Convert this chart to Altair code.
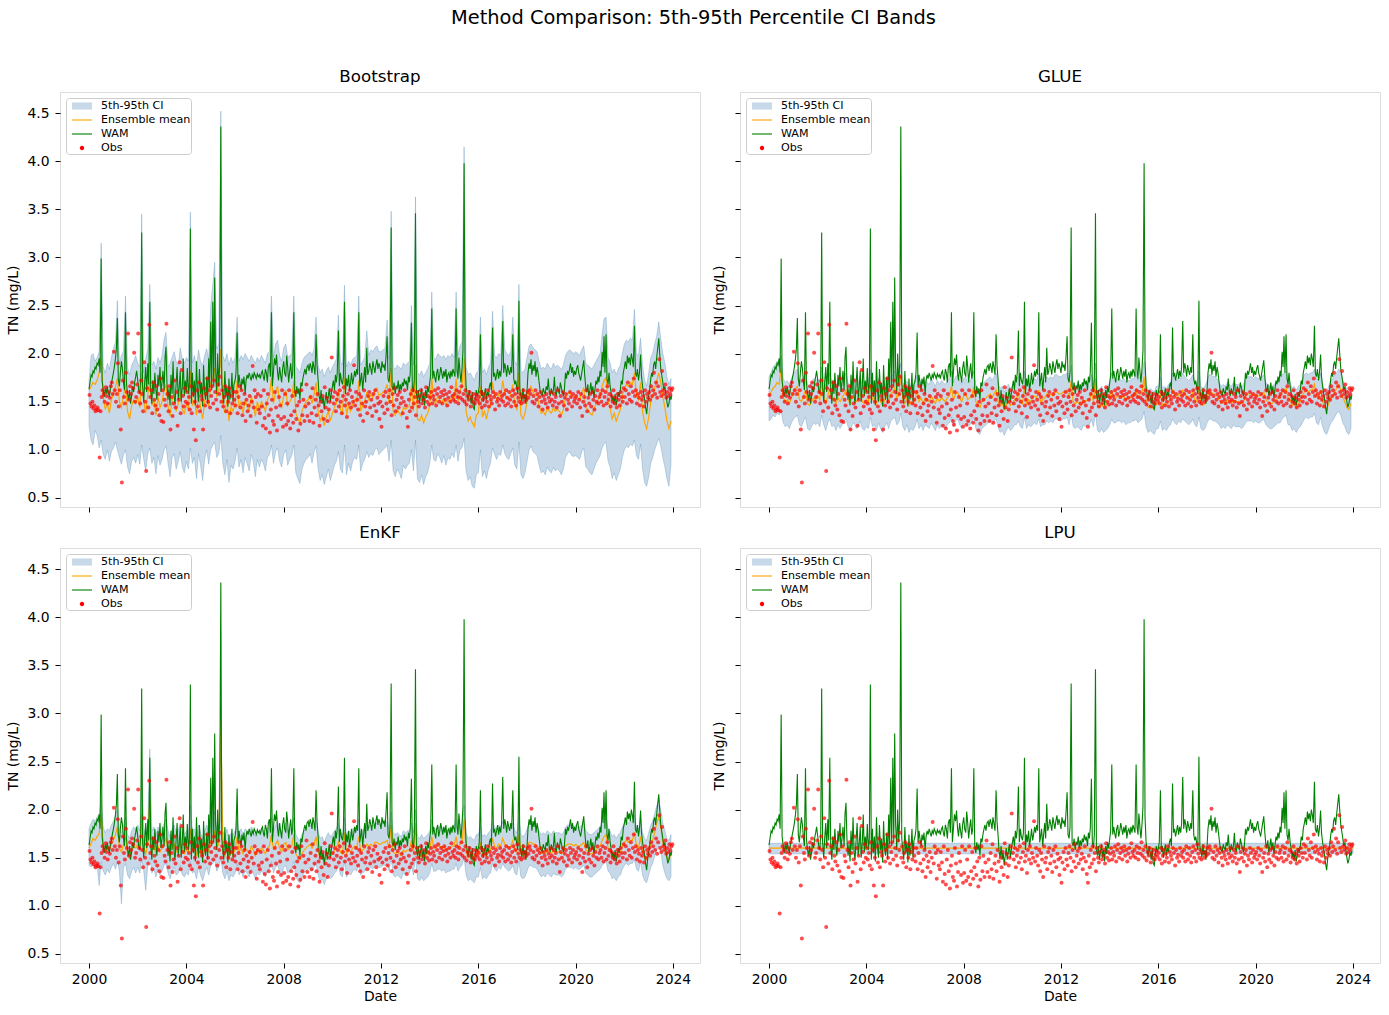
import altair as alt
import pandas as pd

alt.data_transformers.disable_max_rows()

# ------------------------------------------------------------------
# Total nitrogen (mg/L), 2000-2023
# ------------------------------------------------------------------

# WAM simulation, semi-monthly (1st and 15th of each month), one row per year
WAM = [
    1.63, 1.70, 1.78, 1.76, 1.82, 1.80, 1.86, 1.84, 1.90, 1.88, 1.95, 1.80, 2.99, 1.72, 1.62, 1.55, 1.64, 1.58, 1.66, 1.60, 1.55, 1.63, 1.68, 1.74,
    1.80, 1.86, 1.95, 2.06, 2.37, 1.74, 1.66, 1.80, 1.92, 1.85, 1.70, 1.62, 2.43, 1.70, 1.58, 1.52, 1.62, 1.48, 1.56, 1.66, 1.60, 1.70, 1.76, 1.82,
    1.72, 1.62, 1.58, 1.75, 3.26, 1.66, 1.50, 1.70, 1.86, 1.60, 1.90, 1.68, 2.54, 1.62, 1.48, 1.72, 1.58, 1.80, 1.62, 1.52, 1.78, 1.66, 1.86, 1.60,
    1.70, 1.82, 1.62, 1.96, 2.07, 1.70, 1.52, 1.64, 1.46, 1.78, 1.58, 1.92, 1.55, 1.48, 1.70, 1.86, 1.52, 1.64, 1.82, 1.50, 1.66, 1.95, 1.56, 1.72,
    1.60, 1.85, 1.58, 1.70, 3.30, 1.48, 1.80, 1.55, 1.72, 1.46, 1.92, 1.62, 1.50, 1.84, 1.58, 1.70, 1.45, 1.88, 1.60, 1.52, 1.76, 1.48, 1.95, 1.64,
    2.33, 1.62, 2.54, 1.66, 2.79, 1.85, 1.58, 2.00, 1.66, 1.90, 4.36, 1.70, 1.58, 1.48, 1.82, 1.55, 1.66, 1.45, 1.74, 1.52, 1.60, 1.80, 1.50, 1.68,
    1.72, 1.80, 2.22, 1.66, 1.78, 1.70, 1.62, 1.74, 1.68, 1.76, 1.58, 1.72, 1.78, 1.74, 1.80, 1.76, 1.72, 1.78, 1.75, 1.80, 1.77, 1.74, 1.79, 1.76,
    1.78, 1.74, 1.80, 1.82, 1.76, 1.72, 1.84, 1.80, 1.70, 1.86, 1.90, 1.76, 2.43, 1.66, 1.82, 1.95, 1.88, 1.99, 1.80, 1.72, 1.86, 1.78, 1.70, 1.84,
    1.92, 1.80, 1.76, 1.98, 1.86, 1.70, 1.82, 1.90, 1.74, 1.80, 2.43, 1.62, 1.55, 1.66, 1.58, 1.64, 1.52, 1.70, 1.66, 1.74, 1.80, 1.84, 1.78, 1.86,
    1.88, 1.82, 1.90, 1.86, 1.80, 1.92, 1.85, 1.78, 2.20, 1.88, 1.72, 1.56, 1.50, 1.62, 1.48, 1.55, 1.42, 1.52, 1.60, 1.48, 1.56, 1.64, 1.50, 1.58,
    1.66, 1.72, 1.62, 1.78, 1.70, 1.80, 2.24, 1.66, 1.80, 1.72, 1.68, 1.76, 2.54, 1.58, 1.74, 1.66, 1.78, 1.62, 1.70, 1.80, 1.68, 1.74, 1.82, 1.76,
    1.84, 1.78, 2.43, 1.66, 1.72, 1.80, 1.62, 1.74, 1.86, 1.70, 2.06, 1.78, 1.82, 1.90, 1.84, 1.78, 1.92, 1.86, 1.80, 1.88, 1.94, 1.84, 1.90, 1.86,
    1.80, 1.92, 1.86, 1.88, 1.82, 1.96, 2.18, 1.74, 1.70, 1.82, 3.31, 1.66, 1.62, 1.70, 1.58, 1.66, 1.64, 1.72, 1.60, 1.68, 1.62, 1.70, 1.66, 1.74,
    1.68, 1.72, 1.62, 1.76, 1.70, 1.80, 2.32, 1.66, 1.60, 1.74, 3.46, 1.58, 1.52, 1.62, 1.48, 1.56, 1.64, 1.50, 1.58, 1.46, 1.62, 1.54, 1.66, 1.60,
    1.70, 1.78, 2.47, 1.74, 1.82, 1.76, 1.70, 1.80, 1.84, 1.72, 1.78, 1.86, 1.80, 1.74, 1.82, 1.76, 1.84, 1.70, 1.78, 1.80, 1.74, 1.82, 1.76, 1.84,
    1.80, 1.76, 2.47, 1.82, 1.74, 1.96, 1.80, 1.70, 1.85, 2.03, 3.98, 1.92, 1.66, 1.58, 1.52, 1.62, 1.55, 1.48, 1.60, 1.44, 1.42, 1.54, 1.62, 1.56,
    1.60, 1.66, 2.20, 1.56, 1.62, 1.50, 1.58, 1.64, 1.52, 1.60, 1.56, 1.66, 1.70, 1.62, 2.27, 1.76, 1.80, 1.72, 1.78, 1.84, 1.74, 1.82, 1.76, 1.86,
    2.34, 1.80, 1.90, 1.84, 1.76, 1.88, 1.82, 1.78, 1.86, 1.80, 2.20, 1.74, 1.68, 1.72, 1.64, 1.58, 2.55, 1.62, 1.56, 1.50, 1.64, 1.52, 1.58, 1.48,
    1.62, 1.80, 1.90, 1.84, 1.94, 1.78, 1.88, 1.82, 1.92, 1.76, 1.86, 1.80, 1.70, 1.62, 1.58, 1.56, 1.64, 1.60, 1.58, 1.66, 1.62, 1.74, 1.60, 1.56,
    1.64, 1.58, 1.62, 1.76, 1.60, 1.56, 1.66, 1.62, 1.58, 1.70, 1.64, 1.60, 1.56, 1.62, 1.80, 1.74, 1.82, 1.78, 1.84, 1.90, 1.80, 1.86, 1.76, 1.82,
    1.78, 1.84, 1.88, 1.80, 1.76, 1.72, 1.80, 1.86, 1.93, 1.78, 1.64, 1.60, 1.68, 1.56, 1.62, 1.70, 1.58, 1.66, 1.54, 1.62, 1.72, 1.68, 1.76, 1.70,
    1.82, 1.76, 2.02, 1.86, 2.18, 1.80, 2.20, 1.74, 1.68, 1.80, 1.66, 1.60, 1.50, 1.56, 1.48, 1.58, 1.46, 1.52, 1.60, 1.55, 1.62, 1.72, 1.68, 1.80,
    1.86, 1.92, 1.84, 1.98, 1.90, 1.96, 1.88, 2.00, 1.94, 1.86, 2.29, 1.80, 1.76, 1.84, 1.72, 1.80, 1.99, 1.76, 1.66, 1.60, 1.52, 1.44, 1.37, 1.48,
    1.56, 1.62, 1.74, 1.80, 1.76, 1.88, 1.92, 1.84, 1.96, 2.05, 2.16, 2.00, 1.84, 1.78, 1.70, 1.62, 1.66, 1.58, 1.50, 1.44, 1.48, 1.56, 1.52, 1.57,
]

# Grab samples, twice a month (8th and 22nd), one row per year
OBS = [
    1.57, 1.48, 1.45, 1.50, 1.43, 1.46, 1.40, 1.42, 1.44, 1.41, 0.92, 1.40, 1.55, 1.62, 1.58, 1.50, 1.65, 1.56, 1.48, 1.60, 1.54, 1.66, 1.70, 1.58,
    2.02, 1.62, 1.50, 1.58, 1.90, 1.45, 1.62, 1.21, 0.66, 1.72, 1.55, 1.48, 1.80, 1.60, 2.21, 1.52, 1.66, 1.58, 1.70, 1.64, 2.01, 1.50, 1.55, 1.68,
    2.21, 1.60, 1.48, 1.72, 1.58, 1.40, 1.91, 1.50, 0.78, 1.64, 1.44, 2.30, 1.55, 1.62, 1.38, 1.70, 1.52, 1.46, 1.66, 1.42, 1.58, 1.36, 1.74, 1.30,
    1.62, 1.29, 1.52, 1.46, 2.31, 1.58, 1.40, 1.66, 1.21, 1.55, 1.35, 1.48, 1.72, 1.44, 1.60, 1.25, 1.52, 1.91, 1.38, 1.83, 1.56, 1.45, 1.64, 1.50,
    1.60, 1.48, 1.55, 1.42, 1.66, 1.38, 1.58, 1.21, 1.50, 1.10, 1.62, 1.45, 1.70, 1.40, 1.56, 1.52, 1.21, 1.64, 1.46, 1.58, 1.74, 1.50, 1.62, 1.44,
    1.56, 1.66, 1.48, 1.72, 1.60, 1.52, 1.42, 1.68, 1.58, 1.76, 1.50, 1.62, 1.45, 1.55, 1.66, 1.40, 1.58, 1.50, 1.64, 1.38, 1.56, 1.48, 1.60, 1.52,
    1.46, 1.60, 1.38, 1.55, 1.66, 1.44, 1.62, 1.36, 1.48, 1.58, 1.30, 1.52, 1.40, 1.46, 1.56, 1.35, 1.50, 1.87, 1.44, 1.62, 1.55, 1.28, 1.58, 1.42,
    1.38, 1.56, 1.45, 1.25, 1.62, 1.33, 1.22, 1.48, 1.58, 1.36, 1.18, 1.42, 1.52, 1.30, 1.26, 1.60, 1.44, 1.20, 1.35, 1.55, 1.46, 1.32, 1.62, 1.24,
    1.34, 1.58, 1.26, 1.48, 1.30, 1.62, 1.22, 1.36, 1.56, 1.28, 1.40, 1.60, 1.32, 1.46, 1.20, 1.50, 1.27, 1.62, 1.36, 1.52, 1.30, 1.45, 1.68, 1.35,
    1.48, 1.30, 1.55, 1.38, 1.64, 1.28, 1.44, 1.52, 1.36, 1.58, 1.46, 1.25, 1.50, 1.40, 1.56, 1.32, 1.65, 1.44, 1.54, 1.30, 1.42, 1.50, 1.62, 1.96,
    1.55, 1.48, 1.60, 1.40, 1.52, 1.58, 1.45, 1.62, 1.50, 1.38, 1.56, 1.65, 1.46, 1.52, 1.34, 1.58, 1.48, 1.62, 1.44, 1.55, 1.50, 1.88, 1.46, 1.60,
    1.52, 1.42, 1.58, 1.36, 1.55, 1.48, 1.30, 1.62, 1.45, 1.50, 1.38, 1.56, 1.60, 1.44, 1.52, 1.35, 1.58, 1.46, 1.62, 1.40, 1.54, 1.48, 1.32, 1.50,
    1.24, 1.45, 1.56, 1.38, 1.60, 1.48, 1.42, 1.55, 1.62, 1.50, 1.36, 1.58, 1.46, 1.64, 1.40, 1.52, 1.57, 1.44, 1.60, 1.48, 1.54, 1.38, 1.50, 1.62,
    1.46, 1.33, 1.24, 1.52, 1.40, 1.58, 1.44, 1.62, 1.48, 1.55, 1.36, 1.60, 1.50, 1.45, 1.56, 1.62, 1.48, 1.52, 1.58, 1.44, 1.65, 1.50, 1.56, 1.47,
    1.54, 1.60, 1.48, 1.56, 1.52, 1.62, 1.46, 1.58, 1.64, 1.50, 1.55, 1.60, 1.48, 1.57, 1.62, 1.52, 1.58, 1.46, 1.54, 1.60, 1.50, 1.65, 1.56, 1.52,
    1.58, 1.50, 1.62, 1.55, 1.48, 1.60, 1.54, 1.66, 1.52, 1.58, 1.50, 1.62, 1.47, 1.56, 1.52, 1.60, 1.45, 1.55, 1.50, 1.58, 1.48, 1.53, 1.57, 1.51,
    1.55, 1.48, 1.60, 1.44, 1.52, 1.58, 1.46, 1.54, 1.50, 1.62, 1.45, 1.56, 1.52, 1.48, 1.60, 1.55, 1.42, 1.58, 1.50, 1.53, 1.46, 1.60, 1.52, 1.56,
    1.50, 1.58, 1.46, 1.62, 1.54, 1.48, 1.60, 1.52, 1.45, 1.56, 1.62, 1.50, 1.58, 1.46, 1.64, 1.54, 1.50, 1.58, 1.48, 1.55, 1.62, 1.50, 1.56, 1.52,
    1.60, 1.54, 1.62, 1.58, 2.01, 1.50, 1.56, 1.48, 1.62, 1.52, 1.58, 1.45, 1.55, 1.60, 1.50, 1.42, 1.56, 1.52, 1.48, 1.58, 1.44, 1.54, 1.50, 1.60,
    1.52, 1.46, 1.58, 1.50, 1.55, 1.44, 1.62, 1.48, 1.35, 1.56, 1.50, 1.60, 1.46, 1.54, 1.58, 1.42, 1.52, 1.48, 1.60, 1.55, 1.45, 1.58, 1.50, 1.53,
    1.56, 1.48, 1.60, 1.52, 1.44, 1.58, 1.35, 1.50, 1.55, 1.46, 1.62, 1.40, 1.54, 1.48, 1.58, 1.45, 1.60, 1.52, 1.42, 1.56, 1.50, 1.62, 1.48, 1.55,
    1.58, 1.50, 1.62, 1.46, 1.55, 1.60, 1.48, 1.66, 1.52, 1.58, 1.45, 1.56, 1.50, 1.62, 1.48, 1.54, 1.44, 1.58, 1.52, 1.46, 1.60, 1.55, 1.50, 1.64,
    1.55, 1.62, 1.48, 1.70, 1.58, 1.52, 1.66, 1.50, 1.60, 1.74, 1.56, 1.62, 1.48, 1.58, 1.54, 1.46, 1.60, 1.52, 1.56, 1.45, 1.62, 1.50, 1.58, 1.54,
    1.60, 1.52, 1.66, 1.56, 1.62, 1.80, 1.58, 1.70, 1.54, 1.66, 1.94, 1.60, 1.56, 1.82, 1.62, 1.58, 1.68, 1.54, 1.60, 1.56, 1.64, 1.58, 1.62, 1.64,
]

# Bootstrap ensemble, monthly
BOOT_LO = [
    1.25, 1.10, 1.05, 1.20, 1.15, 1.02, 1.10, 0.95, 0.90, 1.00, 0.88, 0.98,
    1.02, 1.08, 1.00, 0.92, 0.85, 0.95, 1.00, 0.82, 0.75, 0.88, 0.92, 0.86,
    0.95, 0.85, 1.05, 0.90, 0.78, 0.96, 1.02, 0.86, 0.92, 0.75, 0.94, 0.84,
    0.90, 1.00, 1.04, 0.86, 0.72, 0.92, 0.96, 0.80, 0.88, 0.98, 0.82, 0.76,
    0.88, 0.80, 1.02, 0.86, 0.92, 0.70, 0.96, 0.84, 0.68, 0.90, 1.00, 0.85,
    1.00, 1.05, 1.08, 0.92, 0.96, 1.15, 0.86, 0.74, 0.90, 0.66, 0.84, 0.80,
    0.88, 1.02, 0.82, 0.90, 0.76, 0.92, 0.86, 0.78, 0.95, 0.88, 0.72, 0.90,
    0.82, 0.90, 0.86, 0.78, 0.92, 0.95, 1.05, 0.86, 0.98, 1.02, 0.88, 0.82,
    0.95, 1.00, 0.84, 0.90, 0.94, 1.05, 0.76, 0.70, 0.65, 0.80, 0.86, 0.90,
    0.92, 0.96, 0.86, 0.98, 1.04, 0.80, 0.68, 0.74, 0.64, 0.72, 0.80, 0.68,
    0.76, 0.84, 0.88, 0.98, 0.80, 0.76, 1.05, 0.74, 0.86, 0.78, 0.88, 0.92,
    0.90, 1.05, 0.78, 0.86, 0.90, 0.98, 0.92, 0.96, 0.94, 1.00, 1.02, 0.95,
    0.98, 1.00, 1.02, 1.05, 0.88, 1.10, 0.78, 0.72, 0.80, 0.76, 0.70, 0.84,
    0.80, 0.84, 0.86, 1.00, 0.78, 1.10, 0.70, 0.66, 0.74, 0.64, 0.72, 0.76,
    0.86, 1.05, 0.90, 0.88, 0.96, 0.92, 0.86, 0.94, 0.84, 0.92, 0.90, 0.96,
    0.92, 1.05, 0.88, 1.00, 1.02, 1.12, 0.78, 0.68, 0.72, 0.62, 0.60, 0.74,
    0.76, 1.00, 0.72, 0.78, 0.70, 0.80, 0.86, 1.02, 0.95, 0.90, 0.96, 0.94,
    1.05, 0.96, 0.92, 0.90, 0.96, 1.02, 0.84, 0.80, 1.08, 0.74, 0.70, 0.76,
    0.88, 1.00, 1.04, 0.98, 0.96, 0.94, 0.84, 0.76, 0.78, 0.74, 0.82, 0.78,
    0.76, 0.82, 0.78, 0.80, 0.78, 0.74, 0.80, 0.92, 0.96, 0.98, 0.94, 0.93,
    0.94, 0.92, 0.90, 0.98, 1.02, 0.82, 0.80, 0.76, 0.74, 0.80, 0.86, 0.90,
    0.94, 1.02, 1.06, 1.08, 0.88, 0.82, 0.70, 0.76, 0.68, 0.74, 0.80, 0.92,
    1.00, 1.04, 1.02, 1.06, 1.04, 1.10, 0.94, 0.90, 1.06, 0.80, 0.66, 0.62,
    0.72, 0.86, 0.92, 1.00, 1.06, 1.12, 1.04, 0.92, 0.82, 0.70, 0.62, 0.85,
]
BOOT_MEAN = [
    1.62, 1.66, 1.70, 1.68, 1.72, 1.80, 1.95, 1.55, 1.42, 1.48, 1.38, 1.52,
    1.58, 1.66, 1.74, 1.50, 1.44, 1.56, 1.68, 1.40, 1.32, 1.46, 1.52, 1.48,
    1.55, 1.44, 1.80, 1.50, 1.38, 1.58, 1.70, 1.46, 1.52, 1.36, 1.55, 1.44,
    1.50, 1.62, 1.68, 1.45, 1.35, 1.52, 1.58, 1.40, 1.48, 1.60, 1.42, 1.38,
    1.48, 1.40, 1.82, 1.46, 1.52, 1.36, 1.58, 1.44, 1.32, 1.50, 1.62, 1.45,
    1.70, 1.75, 1.85, 1.55, 1.60, 2.05, 1.48, 1.38, 1.52, 1.30, 1.45, 1.40,
    1.48, 1.72, 1.44, 1.50, 1.38, 1.52, 1.46, 1.40, 1.56, 1.48, 1.35, 1.50,
    1.42, 1.50, 1.46, 1.40, 1.52, 1.56, 1.75, 1.48, 1.60, 1.66, 1.50, 1.44,
    1.56, 1.62, 1.46, 1.50, 1.54, 1.72, 1.38, 1.32, 1.28, 1.40, 1.46, 1.50,
    1.52, 1.56, 1.48, 1.58, 1.70, 1.40, 1.30, 1.36, 1.25, 1.34, 1.40, 1.30,
    1.38, 1.44, 1.48, 1.62, 1.42, 1.38, 1.75, 1.36, 1.46, 1.40, 1.48, 1.52,
    1.50, 1.72, 1.40, 1.46, 1.50, 1.60, 1.52, 1.58, 1.54, 1.62, 1.64, 1.56,
    1.58, 1.60, 1.62, 1.68, 1.48, 1.85, 1.40, 1.36, 1.42, 1.38, 1.35, 1.44,
    1.42, 1.44, 1.46, 1.66, 1.40, 1.88, 1.32, 1.30, 1.36, 1.28, 1.34, 1.38,
    1.46, 1.75, 1.50, 1.48, 1.56, 1.52, 1.48, 1.54, 1.46, 1.52, 1.50, 1.56,
    1.52, 1.74, 1.50, 1.62, 1.66, 1.95, 1.40, 1.30, 1.34, 1.28, 1.24, 1.36,
    1.38, 1.66, 1.34, 1.40, 1.32, 1.42, 1.46, 1.70, 1.56, 1.52, 1.58, 1.55,
    1.72, 1.58, 1.54, 1.52, 1.58, 1.68, 1.46, 1.42, 1.80, 1.36, 1.32, 1.38,
    1.50, 1.62, 1.66, 1.60, 1.58, 1.56, 1.46, 1.38, 1.40, 1.36, 1.44, 1.40,
    1.38, 1.44, 1.40, 1.42, 1.40, 1.36, 1.42, 1.54, 1.58, 1.60, 1.56, 1.55,
    1.56, 1.54, 1.52, 1.60, 1.64, 1.44, 1.42, 1.38, 1.36, 1.42, 1.48, 1.52,
    1.56, 1.66, 1.72, 1.75, 1.50, 1.44, 1.32, 1.38, 1.30, 1.36, 1.42, 1.55,
    1.64, 1.68, 1.66, 1.70, 1.68, 1.80, 1.56, 1.52, 1.70, 1.40, 1.28, 1.22,
    1.34, 1.50, 1.56, 1.64, 1.72, 1.80, 1.70, 1.55, 1.44, 1.30, 1.22, 1.30,
]
BOOT_HI = [
    1.72, 1.98, 2.00, 1.92, 1.96, 2.02, 3.15, 1.86, 1.80, 1.90, 1.84, 1.96,
    2.05, 2.12, 2.55, 1.90, 1.98, 2.02, 2.60, 1.85, 1.78, 1.88, 1.92, 1.98,
    1.90, 1.86, 3.45, 1.80, 1.95, 2.05, 2.72, 1.88, 1.92, 1.84, 1.96, 1.90,
    1.98, 2.15, 2.22, 1.86, 1.90, 1.96, 2.02, 1.92, 1.88, 2.06, 1.94, 1.90,
    1.96, 1.92, 3.47, 1.90, 1.98, 1.86, 2.04, 1.92, 1.88, 1.98, 2.05, 1.94,
    2.50, 2.72, 2.95, 2.05, 2.10, 4.52, 1.98, 1.92, 2.00, 1.88, 1.96, 1.90,
    1.96, 2.38, 1.92, 1.98, 1.94, 2.00, 1.96, 1.92, 1.98, 1.94, 1.90, 1.96,
    1.92, 1.98, 1.94, 1.90, 2.00, 2.02, 2.60, 1.96, 2.10, 2.14, 1.98, 1.92,
    2.06, 2.10, 1.96, 1.98, 2.00, 2.60, 1.86, 1.84, 1.80, 1.90, 1.96, 1.98,
    2.00, 2.02, 1.98, 2.05, 2.38, 1.88, 1.80, 1.84, 1.76, 1.82, 1.86, 1.80,
    1.86, 1.90, 1.94, 2.40, 1.92, 1.88, 2.71, 1.86, 1.92, 1.88, 1.94, 1.96,
    1.98, 2.60, 1.88, 1.92, 1.96, 2.24, 1.98, 2.04, 2.02, 2.06, 2.08, 2.02,
    2.02, 2.04, 2.06, 2.35, 1.94, 3.48, 1.86, 1.84, 1.88, 1.86, 1.84, 1.90,
    1.88, 1.90, 1.92, 2.50, 1.88, 3.63, 1.80, 1.78, 1.82, 1.76, 1.80, 1.84,
    1.90, 2.64, 1.96, 1.94, 2.00, 1.98, 1.96, 1.98, 1.94, 1.98, 1.96, 2.00,
    1.96, 2.64, 1.98, 2.08, 2.12, 4.15, 1.86, 1.78, 1.80, 1.76, 1.72, 1.80,
    1.82, 2.38, 1.80, 1.84, 1.78, 1.86, 1.90, 2.44, 1.98, 1.96, 2.00, 1.98,
    2.50, 2.04, 2.00, 1.98, 2.02, 2.38, 1.92, 1.88, 2.72, 1.82, 1.80, 1.84,
    1.96, 2.08, 2.10, 2.06, 2.04, 2.02, 1.92, 1.84, 1.86, 1.84, 1.90, 1.86,
    1.84, 1.90, 1.86, 1.88, 1.86, 1.84, 1.88, 1.98, 2.02, 2.04, 2.02, 2.00,
    2.02, 2.00, 1.98, 2.04, 2.08, 1.90, 1.88, 1.86, 1.84, 1.88, 1.92, 1.96,
    2.00, 2.20, 2.36, 2.38, 1.96, 1.90, 1.80, 1.84, 1.78, 1.84, 1.88, 2.00,
    2.10, 2.14, 2.12, 2.16, 2.14, 2.46, 2.00, 1.98, 2.16, 1.88, 1.72, 1.66,
    1.80, 1.96, 2.00, 2.10, 2.18, 2.33, 2.16, 2.00, 1.90, 1.76, 1.68, 1.74,
]

# GLUE behavioural ensemble, monthly
GLUE_LO = [
    1.30, 1.32, 1.36, 1.34, 1.38, 1.36, 1.40, 1.28, 1.24, 1.26, 1.22, 1.28,
    1.32, 1.34, 1.36, 1.26, 1.24, 1.30, 1.34, 1.22, 1.20, 1.24, 1.28, 1.26,
    1.28, 1.24, 1.36, 1.26, 1.20, 1.28, 1.32, 1.24, 1.26, 1.20, 1.26, 1.22,
    1.26, 1.30, 1.32, 1.24, 1.20, 1.26, 1.28, 1.22, 1.24, 1.30, 1.22, 1.20,
    1.24, 1.22, 1.34, 1.24, 1.26, 1.20, 1.28, 1.22, 1.18, 1.24, 1.28, 1.22,
    1.30, 1.32, 1.34, 1.26, 1.28, 1.38, 1.24, 1.20, 1.26, 1.18, 1.22, 1.20,
    1.24, 1.32, 1.22, 1.26, 1.20, 1.26, 1.24, 1.22, 1.28, 1.24, 1.20, 1.26,
    1.22, 1.26, 1.24, 1.22, 1.26, 1.28, 1.34, 1.24, 1.30, 1.32, 1.26, 1.22,
    1.28, 1.30, 1.24, 1.26, 1.28, 1.34, 1.22, 1.18, 1.16, 1.22, 1.24, 1.26,
    1.28, 1.30, 1.26, 1.30, 1.32, 1.24, 1.18, 1.20, 1.15, 1.20, 1.24, 1.20,
    1.22, 1.26, 1.26, 1.30, 1.24, 1.22, 1.34, 1.22, 1.26, 1.24, 1.26, 1.28,
    1.26, 1.32, 1.24, 1.26, 1.26, 1.30, 1.28, 1.30, 1.28, 1.32, 1.32, 1.30,
    1.30, 1.32, 1.32, 1.34, 1.26, 1.38, 1.24, 1.22, 1.24, 1.22, 1.20, 1.26,
    1.24, 1.26, 1.26, 1.32, 1.24, 1.38, 1.20, 1.18, 1.22, 1.18, 1.20, 1.22,
    1.26, 1.32, 1.28, 1.28, 1.30, 1.30, 1.28, 1.30, 1.26, 1.28, 1.28, 1.30,
    1.30, 1.32, 1.28, 1.30, 1.32, 1.40, 1.24, 1.18, 1.20, 1.18, 1.16, 1.22,
    1.22, 1.30, 1.20, 1.22, 1.20, 1.24, 1.26, 1.32, 1.28, 1.26, 1.30, 1.28,
    1.32, 1.30, 1.28, 1.26, 1.28, 1.32, 1.26, 1.24, 1.34, 1.22, 1.20, 1.22,
    1.28, 1.32, 1.32, 1.30, 1.30, 1.28, 1.26, 1.22, 1.24, 1.22, 1.26, 1.24,
    1.22, 1.26, 1.24, 1.24, 1.24, 1.22, 1.24, 1.28, 1.30, 1.30, 1.30, 1.28,
    1.30, 1.28, 1.28, 1.30, 1.32, 1.26, 1.24, 1.22, 1.22, 1.24, 1.26, 1.28,
    1.28, 1.32, 1.34, 1.36, 1.26, 1.26, 1.20, 1.22, 1.18, 1.22, 1.24, 1.28,
    1.32, 1.34, 1.32, 1.34, 1.34, 1.38, 1.28, 1.26, 1.34, 1.24, 1.18, 1.16,
    1.22, 1.28, 1.30, 1.34, 1.38, 1.40, 1.36, 1.28, 1.24, 1.18, 1.16, 1.22,
]
GLUE_MEAN = [
    1.56, 1.60, 1.64, 1.66, 1.70, 1.68, 1.85, 1.54, 1.50, 1.52, 1.48, 1.54,
    1.60, 1.64, 1.66, 1.52, 1.50, 1.56, 1.62, 1.48, 1.46, 1.50, 1.54, 1.52,
    1.56, 1.52, 1.70, 1.54, 1.48, 1.56, 1.64, 1.52, 1.54, 1.48, 1.54, 1.50,
    1.54, 1.58, 1.62, 1.52, 1.48, 1.54, 1.56, 1.50, 1.52, 1.58, 1.50, 1.48,
    1.52, 1.50, 1.68, 1.52, 1.54, 1.48, 1.56, 1.50, 1.46, 1.52, 1.56, 1.50,
    1.58, 1.60, 1.64, 1.54, 1.56, 1.78, 1.52, 1.48, 1.54, 1.46, 1.50, 1.48,
    1.52, 1.62, 1.50, 1.54, 1.48, 1.54, 1.52, 1.50, 1.56, 1.52, 1.48, 1.54,
    1.50, 1.54, 1.52, 1.50, 1.54, 1.56, 1.66, 1.52, 1.58, 1.60, 1.54, 1.50,
    1.56, 1.58, 1.52, 1.54, 1.56, 1.66, 1.50, 1.46, 1.44, 1.50, 1.52, 1.54,
    1.56, 1.58, 1.54, 1.58, 1.62, 1.50, 1.46, 1.48, 1.42, 1.46, 1.50, 1.46,
    1.48, 1.52, 1.54, 1.58, 1.50, 1.48, 1.66, 1.48, 1.52, 1.50, 1.54, 1.56,
    1.54, 1.62, 1.50, 1.52, 1.54, 1.58, 1.56, 1.58, 1.56, 1.60, 1.60, 1.58,
    1.58, 1.60, 1.60, 1.62, 1.54, 1.72, 1.50, 1.48, 1.50, 1.48, 1.46, 1.52,
    1.50, 1.52, 1.52, 1.60, 1.50, 1.74, 1.46, 1.44, 1.48, 1.44, 1.46, 1.48,
    1.52, 1.62, 1.54, 1.54, 1.56, 1.56, 1.54, 1.56, 1.52, 1.54, 1.54, 1.56,
    1.56, 1.62, 1.54, 1.58, 1.60, 1.76, 1.50, 1.44, 1.46, 1.44, 1.42, 1.48,
    1.48, 1.58, 1.46, 1.48, 1.46, 1.50, 1.52, 1.62, 1.56, 1.54, 1.58, 1.56,
    1.62, 1.58, 1.56, 1.54, 1.56, 1.60, 1.52, 1.50, 1.66, 1.48, 1.46, 1.48,
    1.54, 1.60, 1.60, 1.58, 1.58, 1.56, 1.52, 1.48, 1.50, 1.48, 1.52, 1.50,
    1.48, 1.52, 1.50, 1.50, 1.50, 1.48, 1.50, 1.56, 1.58, 1.58, 1.58, 1.56,
    1.58, 1.56, 1.56, 1.58, 1.60, 1.52, 1.50, 1.48, 1.48, 1.50, 1.52, 1.54,
    1.56, 1.60, 1.62, 1.64, 1.54, 1.52, 1.46, 1.48, 1.44, 1.48, 1.50, 1.56,
    1.60, 1.62, 1.60, 1.62, 1.62, 1.68, 1.56, 1.54, 1.62, 1.50, 1.44, 1.42,
    1.48, 1.54, 1.56, 1.60, 1.64, 1.68, 1.62, 1.54, 1.50, 1.44, 1.42, 1.48,
]
GLUE_HI = [
    1.76, 1.80, 1.86, 1.88, 1.92, 1.90, 1.98, 1.74, 1.70, 1.72, 1.68, 1.74,
    1.78, 1.82, 1.84, 1.72, 1.70, 1.76, 1.80, 1.68, 1.66, 1.70, 1.74, 1.72,
    1.74, 1.70, 1.86, 1.72, 1.66, 1.74, 1.80, 1.70, 1.72, 1.66, 1.72, 1.68,
    1.72, 1.76, 1.80, 1.70, 1.66, 1.72, 1.74, 1.68, 1.70, 1.76, 1.68, 1.66,
    1.70, 1.68, 1.84, 1.70, 1.72, 1.66, 1.74, 1.68, 1.64, 1.70, 1.74, 1.68,
    1.76, 1.78, 1.82, 1.72, 1.74, 1.90, 1.70, 1.66, 1.72, 1.64, 1.68, 1.66,
    1.70, 1.78, 1.68, 1.72, 1.66, 1.72, 1.70, 1.68, 1.74, 1.70, 1.66, 1.72,
    1.68, 1.72, 1.70, 1.68, 1.72, 1.74, 1.82, 1.70, 1.76, 1.78, 1.72, 1.68,
    1.74, 1.76, 1.70, 1.72, 1.74, 1.82, 1.68, 1.64, 1.62, 1.68, 1.70, 1.72,
    1.74, 1.76, 1.72, 1.76, 1.80, 1.68, 1.64, 1.66, 1.60, 1.64, 1.68, 1.64,
    1.66, 1.70, 1.72, 1.76, 1.68, 1.66, 1.82, 1.66, 1.70, 1.68, 1.72, 1.74,
    1.72, 1.80, 1.68, 1.70, 1.72, 1.76, 1.74, 1.76, 1.74, 1.78, 1.78, 1.76,
    1.76, 1.78, 1.78, 1.80, 1.72, 1.88, 1.68, 1.66, 1.68, 1.66, 1.64, 1.70,
    1.68, 1.70, 1.70, 1.78, 1.68, 1.90, 1.64, 1.62, 1.66, 1.62, 1.64, 1.66,
    1.70, 1.80, 1.72, 1.72, 1.74, 1.74, 1.72, 1.74, 1.70, 1.72, 1.72, 1.74,
    1.74, 1.80, 1.72, 1.76, 1.78, 1.92, 1.68, 1.62, 1.64, 1.62, 1.60, 1.66,
    1.66, 1.76, 1.64, 1.66, 1.64, 1.68, 1.70, 1.80, 1.74, 1.72, 1.76, 1.74,
    1.80, 1.76, 1.74, 1.72, 1.74, 1.78, 1.70, 1.68, 1.82, 1.66, 1.64, 1.66,
    1.72, 1.78, 1.78, 1.76, 1.76, 1.74, 1.70, 1.66, 1.68, 1.66, 1.70, 1.68,
    1.66, 1.70, 1.68, 1.68, 1.68, 1.66, 1.68, 1.74, 1.76, 1.76, 1.76, 1.74,
    1.76, 1.74, 1.74, 1.76, 1.78, 1.70, 1.68, 1.66, 1.66, 1.68, 1.70, 1.72,
    1.74, 1.78, 1.80, 1.82, 1.72, 1.70, 1.64, 1.66, 1.62, 1.66, 1.68, 1.74,
    1.78, 1.80, 1.78, 1.80, 1.80, 1.84, 1.74, 1.72, 1.80, 1.68, 1.62, 1.60,
    1.66, 1.72, 1.74, 1.78, 1.80, 1.84, 1.80, 1.72, 1.68, 1.62, 1.60, 1.66,
]

# EnKF analysis ensemble, monthly
ENKF_LO = [
    1.42, 1.40, 1.44, 1.38, 1.42, 1.21, 1.46, 1.36, 1.32, 1.38, 1.34, 1.40,
    1.44, 1.38, 1.46, 1.36, 1.02, 1.40, 1.44, 1.32, 1.28, 1.36, 1.40, 1.34,
    1.40, 1.34, 1.48, 1.36, 1.16, 1.42, 1.50, 1.34, 1.38, 1.30, 1.38, 1.32,
    1.36, 1.42, 1.44, 1.34, 1.28, 1.36, 1.40, 1.32, 1.34, 1.42, 1.32, 1.30,
    1.34, 1.32, 1.46, 1.34, 1.36, 1.28, 1.40, 1.32, 1.26, 1.34, 1.40, 1.32,
    1.42, 1.44, 1.48, 1.36, 1.40, 1.50, 1.34, 1.28, 1.36, 1.26, 1.32, 1.30,
    1.34, 1.44, 1.32, 1.36, 1.30, 1.36, 1.34, 1.30, 1.38, 1.34, 1.28, 1.34,
    1.32, 1.36, 1.34, 1.30, 1.36, 1.38, 1.46, 1.34, 1.40, 1.42, 1.36, 1.32,
    1.40, 1.42, 1.34, 1.36, 1.38, 1.46, 1.30, 1.26, 1.24, 1.30, 1.34, 1.36,
    1.38, 1.40, 1.36, 1.40, 1.44, 1.32, 1.26, 1.28, 1.22, 1.28, 1.32, 1.28,
    1.30, 1.34, 1.36, 1.42, 1.32, 1.30, 1.46, 1.30, 1.34, 1.32, 1.36, 1.38,
    1.36, 1.44, 1.32, 1.34, 1.36, 1.40, 1.38, 1.40, 1.38, 1.42, 1.42, 1.40,
    1.40, 1.42, 1.42, 1.44, 1.36, 1.50, 1.32, 1.30, 1.32, 1.30, 1.28, 1.34,
    1.32, 1.34, 1.34, 1.42, 1.32, 1.52, 1.28, 1.26, 1.30, 1.26, 1.28, 1.30,
    1.34, 1.44, 1.36, 1.36, 1.38, 1.38, 1.36, 1.38, 1.34, 1.36, 1.36, 1.38,
    1.38, 1.44, 1.36, 1.40, 1.42, 1.50, 1.32, 1.26, 1.28, 1.26, 1.24, 1.30,
    1.30, 1.40, 1.28, 1.30, 1.28, 1.32, 1.34, 1.44, 1.38, 1.36, 1.40, 1.38,
    1.44, 1.40, 1.38, 1.36, 1.38, 1.42, 1.34, 1.32, 1.46, 1.30, 1.28, 1.30,
    1.36, 1.42, 1.42, 1.40, 1.40, 1.38, 1.34, 1.30, 1.32, 1.30, 1.34, 1.32,
    1.30, 1.34, 1.32, 1.32, 1.32, 1.30, 1.32, 1.38, 1.40, 1.40, 1.40, 1.38,
    1.40, 1.38, 1.38, 1.40, 1.42, 1.34, 1.32, 1.30, 1.30, 1.32, 1.34, 1.36,
    1.38, 1.42, 1.44, 1.46, 1.36, 1.34, 1.28, 1.30, 1.26, 1.30, 1.32, 1.38,
    1.42, 1.44, 1.42, 1.44, 1.44, 1.48, 1.38, 1.36, 1.46, 1.32, 1.26, 1.24,
    1.32, 1.40, 1.44, 1.52, 1.58, 1.62, 1.56, 1.42, 1.34, 1.28, 1.26, 1.30,
]
ENKF_MEAN = [
    1.60, 1.65, 1.70, 1.68, 1.72, 1.75, 1.95, 1.62, 1.56, 1.60, 1.58, 1.64,
    1.68, 1.74, 1.82, 1.60, 1.56, 1.64, 1.72, 1.54, 1.50, 1.58, 1.62, 1.60,
    1.64, 1.58, 1.95, 1.60, 1.54, 1.64, 2.10, 1.58, 1.62, 1.54, 1.62, 1.56,
    1.60, 1.66, 1.70, 1.58, 1.52, 1.60, 1.64, 1.56, 1.58, 1.66, 1.56, 1.54,
    1.58, 1.56, 1.80, 1.58, 1.60, 1.52, 1.64, 1.56, 1.50, 1.58, 1.64, 1.56,
    1.68, 1.72, 1.78, 1.60, 1.64, 2.95, 1.58, 1.52, 1.60, 1.50, 1.56, 1.54,
    1.58, 1.72, 1.56, 1.60, 1.54, 1.60, 1.58, 1.54, 1.62, 1.58, 1.52, 1.58,
    1.56, 1.60, 1.58, 1.54, 1.60, 1.62, 1.74, 1.58, 1.64, 1.68, 1.60, 1.56,
    1.64, 1.66, 1.58, 1.60, 1.62, 1.74, 1.54, 1.50, 1.48, 1.54, 1.58, 1.60,
    1.62, 1.64, 1.60, 1.64, 1.72, 1.56, 1.50, 1.52, 1.46, 1.52, 1.56, 1.52,
    1.54, 1.58, 1.60, 1.66, 1.56, 1.54, 1.76, 1.54, 1.58, 1.56, 1.60, 1.62,
    1.60, 1.72, 1.56, 1.58, 1.60, 1.64, 1.62, 1.64, 1.62, 1.66, 1.66, 1.64,
    1.64, 1.66, 1.66, 1.68, 1.60, 1.84, 1.56, 1.54, 1.56, 1.54, 1.52, 1.58,
    1.56, 1.58, 1.58, 1.68, 1.56, 1.86, 1.52, 1.50, 1.54, 1.50, 1.52, 1.54,
    1.58, 1.72, 1.60, 1.60, 1.62, 1.62, 1.60, 1.62, 1.58, 1.60, 1.60, 1.62,
    1.62, 1.72, 1.60, 1.64, 1.66, 1.90, 1.56, 1.50, 1.52, 1.50, 1.48, 1.54,
    1.54, 1.66, 1.52, 1.54, 1.52, 1.56, 1.58, 1.70, 1.62, 1.60, 1.64, 1.62,
    1.70, 1.64, 1.62, 1.60, 1.62, 1.68, 1.58, 1.56, 1.74, 1.54, 1.52, 1.54,
    1.60, 1.66, 1.66, 1.64, 1.64, 1.62, 1.58, 1.54, 1.56, 1.54, 1.58, 1.56,
    1.54, 1.58, 1.56, 1.56, 1.56, 1.54, 1.56, 1.62, 1.64, 1.64, 1.64, 1.62,
    1.64, 1.62, 1.62, 1.64, 1.66, 1.58, 1.56, 1.54, 1.54, 1.56, 1.58, 1.60,
    1.62, 1.68, 1.72, 1.74, 1.60, 1.58, 1.52, 1.54, 1.50, 1.54, 1.56, 1.62,
    1.66, 1.68, 1.66, 1.68, 1.68, 1.76, 1.62, 1.60, 1.72, 1.56, 1.50, 1.48,
    1.56, 1.64, 1.68, 1.76, 1.86, 1.92, 1.82, 1.66, 1.58, 1.50, 1.48, 1.54,
]
ENKF_HI = [
    1.80, 1.86, 1.90, 1.88, 1.92, 1.95, 2.10, 1.82, 1.76, 1.80, 1.78, 1.84,
    1.88, 1.94, 2.00, 1.80, 1.76, 1.84, 1.92, 1.74, 1.70, 1.78, 1.82, 1.80,
    1.84, 1.78, 2.46, 1.80, 1.74, 1.84, 2.63, 1.78, 1.82, 1.74, 1.82, 1.76,
    1.80, 1.86, 1.90, 1.78, 1.72, 1.80, 1.84, 1.76, 1.78, 1.86, 1.76, 1.74,
    1.78, 1.76, 2.05, 1.78, 1.80, 1.72, 1.84, 1.76, 1.70, 1.78, 1.84, 1.76,
    1.88, 1.92, 1.98, 1.80, 1.84, 3.05, 1.78, 1.72, 1.80, 1.70, 1.76, 1.74,
    1.78, 1.90, 1.76, 1.80, 1.74, 1.80, 1.78, 1.74, 1.82, 1.78, 1.72, 1.78,
    1.76, 1.80, 1.78, 1.74, 1.80, 1.82, 1.92, 1.78, 1.84, 1.88, 1.80, 1.76,
    1.84, 1.86, 1.78, 1.80, 1.82, 1.92, 1.74, 1.70, 1.68, 1.74, 1.78, 1.80,
    1.82, 1.84, 1.80, 1.84, 1.90, 1.76, 1.70, 1.72, 1.66, 1.72, 1.76, 1.72,
    1.74, 1.78, 1.80, 1.86, 1.76, 1.74, 1.92, 1.74, 1.78, 1.76, 1.80, 1.82,
    1.80, 1.90, 1.76, 1.78, 1.80, 1.84, 1.82, 1.84, 1.82, 1.86, 1.86, 1.84,
    1.84, 1.86, 1.86, 1.88, 1.80, 1.98, 1.76, 1.74, 1.76, 1.74, 1.72, 1.78,
    1.76, 1.78, 1.78, 1.86, 1.76, 2.00, 1.72, 1.70, 1.74, 1.70, 1.72, 1.74,
    1.78, 1.90, 1.80, 1.80, 1.82, 1.82, 1.80, 1.82, 1.78, 1.80, 1.80, 1.82,
    1.82, 1.90, 1.80, 1.84, 1.86, 2.05, 1.76, 1.70, 1.72, 1.70, 1.68, 1.74,
    1.74, 1.84, 1.72, 1.74, 1.72, 1.76, 1.78, 1.88, 1.82, 1.80, 1.84, 1.82,
    1.88, 1.84, 1.82, 1.80, 1.82, 1.86, 1.78, 1.76, 1.92, 1.74, 1.72, 1.74,
    1.80, 1.86, 1.86, 1.84, 1.84, 1.82, 1.78, 1.74, 1.76, 1.74, 1.78, 1.76,
    1.74, 1.78, 1.76, 1.76, 1.76, 1.74, 1.76, 1.82, 1.84, 1.84, 1.84, 1.82,
    1.84, 1.82, 1.82, 1.84, 1.86, 1.78, 1.76, 1.74, 1.74, 1.76, 1.78, 1.80,
    1.82, 1.88, 1.90, 1.92, 1.80, 1.78, 1.72, 1.74, 1.70, 1.74, 1.76, 1.82,
    1.86, 1.88, 1.86, 1.88, 1.88, 1.94, 1.82, 1.80, 1.90, 1.76, 1.70, 1.68,
    1.76, 1.84, 1.88, 1.96, 2.04, 2.10, 2.00, 1.86, 1.78, 1.70, 1.68, 1.74,
]

# LPU band, yearly (2000-2024)
LPU_LO = [1.54, 1.54, 1.54, 1.54, 1.54, 1.54, 1.54, 1.54, 1.54, 1.54, 1.54, 1.54, 1.54,
          1.54, 1.54, 1.54, 1.54, 1.54, 1.54, 1.54, 1.54, 1.54, 1.54, 1.54, 1.54]
LPU_MEAN = [1.60, 1.60, 1.60, 1.60, 1.60, 1.60, 1.60, 1.60, 1.60, 1.60, 1.60, 1.60, 1.60,
            1.60, 1.60, 1.60, 1.60, 1.60, 1.60, 1.60, 1.60, 1.60, 1.60, 1.60, 1.60]
LPU_HI = [1.65, 1.65, 1.65, 1.65, 1.65, 1.65, 1.65, 1.65, 1.65, 1.65, 1.65, 1.65, 1.65,
          1.65, 1.65, 1.65, 1.65, 1.65, 1.65, 1.65, 1.65, 1.65, 1.65, 1.65, 1.65]

SERIES = ["5th-95th CI", "Ensemble mean", "WAM", "Obs"]
SERIES_COLORS = ["#c8dae9", "orange", "green", "red"]
YEAR_TICKS = [2000, 2004, 2008, 2012, 2016, 2020, 2024]
Y_TICKS = [0.5, 1.0, 1.5, 2.0, 2.5, 3.0, 3.5, 4.0, 4.5]

FONT = "DejaVu Sans"
BAND_FILL = "steelblue"

# ------------------------------------------------------------------
# Tables
# ------------------------------------------------------------------
semi = pd.date_range("2000-01-01", periods=len(WAM), freq="SMS")
monthly = pd.date_range("2000-01-01", periods=len(BOOT_LO), freq="MS")
yearly = pd.date_range("2000-01-01", periods=len(LPU_LO), freq="YS")

wam_df = pd.DataFrame({"date": semi.strftime("%Y-%m-%d"), "value": WAM})
obs_df = pd.DataFrame({
    "date": (semi + pd.Timedelta(days=7)).strftime("%Y-%m-%d"),
    "value": OBS,
    "series": "Obs",
})


def band_table(dates, lo, mean, hi):
    return pd.DataFrame({"date": dates.strftime("%Y-%m-%d"), "lo": lo, "mean": mean, "hi": hi})


METHODS = [
    ("Bootstrap", band_table(monthly, BOOT_LO, BOOT_MEAN, BOOT_HI)),
    ("GLUE", band_table(monthly, GLUE_LO, GLUE_MEAN, GLUE_HI)),
    ("EnKF", band_table(monthly, ENKF_LO, ENKF_MEAN, ENKF_HI)),
    ("LPU", band_table(yearly, LPU_LO, LPU_MEAN, LPU_HI)),
]

# ------------------------------------------------------------------
# Scales, axes, legend
# ------------------------------------------------------------------
X_SCALE = alt.Scale(
    type="utc",
    domain=[alt.DateTime(year=1998, month=10, date=22, utc=True),
            alt.DateTime(year=2025, month=2, date=9, utc=True)],
    nice=False,
)
Y_SCALE = alt.Scale(domain=[0.405, 4.72], nice=False, zero=False)

TICK_DATES = [alt.DateTime(year=y, month=1, date=1, utc=True) for y in YEAR_TICKS]


def x_axis(bottom):
    return alt.Axis(
        values=TICK_DATES, format="%Y", labels=bottom, title="Date" if bottom else None,
        grid=False, domain=False, ticks=True, tickSize=5, tickWidth=1, tickColor="black",
        labelFont=FONT, labelFontSize=13.9, labelColor="black", labelPadding=4,
        titleFont=FONT, titleFontSize=13.9, titleFontWeight="normal", titleColor="black",
        titlePadding=4,
    )


def y_axis(left):
    return alt.Axis(
        values=Y_TICKS, format=".1f", labels=left, title="TN (mg/L)",
        grid=False, domain=False, ticks=True, tickSize=5, tickWidth=1, tickColor="black",
        labelFont=FONT, labelFontSize=13.9, labelColor="black", labelPadding=6,
        titleFont=FONT, titleFontSize=13.9, titleFontWeight="normal", titleColor="black",
        titlePadding=6 if left else 8,
    )


# legend glyphs (unit box, 8 px per unit at symbolSize 256)
THIN_BAR = "M-0.25,-0.07L2.25,-0.07L2.25,0.07L-0.25,0.07Z"
PATCH = "M-0.25,-0.45L2.25,-0.45L2.25,0.45L-0.25,0.45Z"
DOT = "M0.725,0A0.275,0.275 0 1,1 1.275,0A0.275,0.275 0 1,1 0.725,0Z"

LEGEND = alt.Legend(
    title=None, orient="top-left", offset=6, padding=0, rowPadding=0,
    symbolSize=256, symbolStrokeWidth=0, symbolOpacity=1,
    labelFont=FONT, labelFontSize=11.1, labelColor="black",
    labelOffset=19, labelExpr="datum.label + '\u00a0\u00a0\u00a0\u00a0'",
    fillColor="rgba(255,255,255,0.8)", strokeColor="#cccccc", cornerRadius=3,
)


def panel(name, band, row, col):
    x = alt.X("date:T", scale=X_SCALE, axis=x_axis(row == 1))
    yax = y_axis(col == 0)

    ci = alt.Chart(band).mark_area(
        fill=BAND_FILL, fillOpacity=0.3, stroke=BAND_FILL, strokeOpacity=0.3, strokeWidth=1, clip=True
    ).encode(x=x, y=alt.Y("lo:Q", scale=Y_SCALE, axis=yax), y2=alt.Y2("hi:Q"))

    mean = alt.Chart(band).mark_line(color="orange", strokeWidth=1.2, clip=True).encode(
        x=x, y=alt.Y("mean:Q", scale=Y_SCALE, axis=yax)
    )

    wam = alt.Chart(wam_df).mark_line(color="green", strokeWidth=1.1, clip=True).encode(
        x=x, y=alt.Y("value:Q", scale=Y_SCALE, axis=yax)
    )

    obs = alt.Chart(obs_df).mark_circle(color="red", size=16, opacity=0.7, clip=True).encode(
        x=x, y=alt.Y("value:Q", scale=Y_SCALE, axis=yax)
    )

    # legend carrier: no rows survive the filter, only the keyed legend is drawn
    key = alt.Chart(obs_df).transform_filter("false").mark_point(
        filled=True, size=256, opacity=1
    ).encode(
        x=x,
        y=alt.Y("value:Q", scale=Y_SCALE, axis=yax),
        color=alt.Color("series:N", scale=alt.Scale(domain=SERIES, range=SERIES_COLORS), legend=LEGEND),
        shape=alt.Shape("series:N", scale=alt.Scale(domain=SERIES, range=[PATCH, THIN_BAR, THIN_BAR, DOT]),
                        legend=LEGEND),
    )

    return alt.layer(ci, mean, wam, obs, key).properties(
        width=640,
        height=415,
        title=alt.TitleParams(name, font=FONT, fontSize=16.7, fontWeight="normal",
                              color="black", anchor="middle", offset=6),
    )


panels = [panel(name, band, i // 2, i % 2) for i, (name, band) in enumerate(METHODS)]


def row(a, b):
    return (
        alt.hconcat(a, b, spacing=11)
        .resolve_scale(color="independent", shape="independent")
        .resolve_legend(color="independent", shape="independent")
    )


chart = (
    alt.vconcat(
        row(panels[0], panels[1]), row(panels[2], panels[3]), spacing=11,
        title=alt.TitleParams(
            "Method Comparison: 5th-95th Percentile CI Bands",
            font=FONT, fontSize=19.4, fontWeight="normal", color="black",
            anchor="middle", offset=40,
        ),
    )
    .resolve_scale(color="independent", shape="independent")
    .resolve_legend(color="independent", shape="independent")
    .properties(padding={"left": 6, "top": 8, "right": 5, "bottom": 5}, background="white")
    .configure_view(stroke="black", strokeWidth=1.1)
    .configure(font=FONT)
)

chart.save("out.html", embed_options={"renderer": "svg", "actions": False})
